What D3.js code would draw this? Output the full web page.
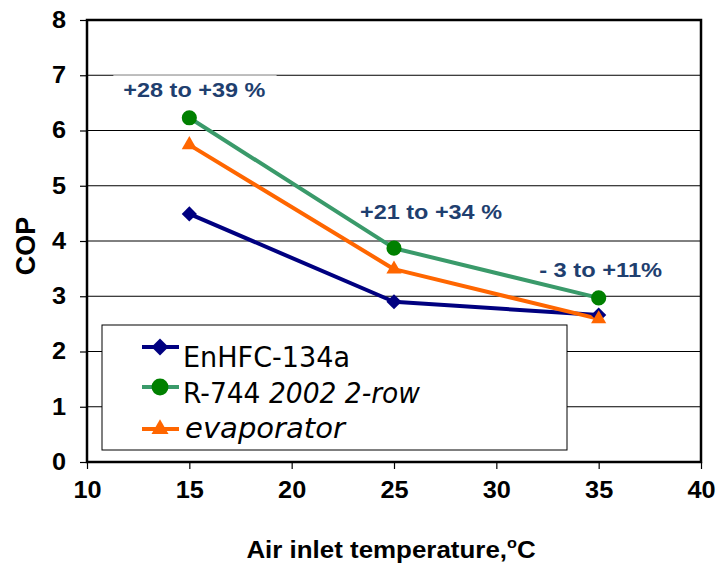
<!DOCTYPE html>
<html><head><meta charset="utf-8">
<script src="https://cdn.jsdelivr.net/npm/d3@7"></script>
<style>body{margin:0;background:#fff}</style>
</head><body>
<script>
const temps = [15, 25, 35];
const enhfc = [4.49, 2.90, 2.66];
const r744 = [6.23, 3.87, 2.97];
const evap = [5.74, 3.49, 2.59];
const xTicks = [10, 15, 20, 25, 30, 35, 40];
const yTicks = [0, 1, 2, 3, 4, 5, 6, 7, 8];
const annotTemps = [15, 25, 35];
const annotValues = [6.6, 4.4, 3.35];
const annotTexts = ["+28 to +39 %", "+21 to +34 %", "- 3 to +11%"];

const W = 717, H = 563;
const m = {l: 87, r: 16, t: 20, b: 101};
const ARIAL = "Liberation Sans, Arial, sans-serif";
const svg = d3.select("body").append("svg").attr("width", W).attr("height", H);
const x = d3.scaleLinear().domain([10, 40]).range([m.l, W - m.r]);
const y = d3.scaleLinear().domain([0, 8]).range([H - m.b, m.t]);

function stretch(sel, factor) {
  sel.each(function() {
    const w = this.getComputedTextLength();
    d3.select(this).attr("textLength", w * factor).attr("lengthAdjust", "spacingAndGlyphs");
  });
}

// gridlines
svg.append("g").selectAll("line").data(yTicks.filter(d => d > 0 && d < 8)).join("line")
  .attr("x1", x(10)).attr("x2", x(40)).attr("y1", d => y(d)).attr("y2", d => y(d))
  .attr("stroke", "#000").attr("stroke-width", 1);

// annotations
const ann = svg.append("g");
const annOffsets = [5, 37, 2];
const annWidths = [142, 142, 123];
annotTexts.forEach((txt, i) => {
  const tx = ann.append("text").attr("x", x(annotTemps[i]) + annOffsets[i]).attr("y", y(annotValues[i]))
    .attr("text-anchor", "middle").attr("font-family", ARIAL)
    .attr("font-weight", "bold").attr("font-size", 20).attr("fill", "#1F3F6F")
    .attr("textLength", annWidths[i]).attr("lengthAdjust", "spacingAndGlyphs").text(txt);
  if (i === 0) {
    const bb = tx.node().getBBox();
    ann.insert("rect", "text").attr("x", bb.x - 10).attr("y", bb.y - 4).attr("width", bb.width + 21).attr("height", bb.height + 8).attr("fill", "#fff");
  }
});

// axes
const xAxis = d3.axisBottom(x).tickValues(xTicks).tickSize(7).tickPadding(13);
const yAxis = d3.axisLeft(y).tickValues(yTicks).tickSize(7).tickPadding(14);
const gx = svg.append("g").attr("transform", `translate(0,${y(0)})`).call(xAxis);
const gy = svg.append("g").attr("transform", `translate(${x(10)},0)`).call(yAxis);
[gx, gy].forEach(g => {
  g.select(".domain").remove();
  g.selectAll("line").attr("stroke", "#000").attr("stroke-width", 1.2);
  g.selectAll("text").attr("font-family", ARIAL).attr("font-weight", "bold").attr("font-size", 23).attr("fill", "#000");
  stretch(g.selectAll("text"), 1.1);
});

// frame
svg.append("rect").attr("x", x(10)).attr("y", y(8)).attr("width", x(40) - x(10)).attr("height", y(0) - y(8))
  .attr("fill", "none").attr("stroke", "#000").attr("stroke-width", 2.5);

// series
const series = [
  {name: "EnHFC-134a", vals: enhfc, line: "#000080", mark: "#000080", shape: d3.symbolSquare, size: 115, rot: 45},
  {name: "R-744", vals: r744, line: "#3A9A6A", mark: "#008000", shape: d3.symbolCircle, size: 180, rot: 0},
  {name: "evaporator", vals: evap, line: "#FF6600", mark: "#FF6600", shape: d3.symbolTriangle, size: 100, rot: 0}
];
const lineGen = d3.line().x((d, i) => x(temps[i])).y(d => y(d));
series.forEach(s => {
  svg.append("path").datum(s.vals).attr("d", lineGen).attr("fill", "none")
    .attr("stroke", s.line).attr("stroke-width", 4).attr("stroke-linejoin", "round");
});
series.forEach(s => {
  svg.append("g").selectAll("path").data(s.vals).join("path")
    .attr("d", d3.symbol().type(s.shape).size(s.size))
    .attr("transform", (d, i) => `translate(${x(temps[i])},${y(d)}) rotate(${s.rot})`)
    .attr("fill", s.mark);
});

// legend
const lg = svg.append("g");
lg.append("rect").attr("x", 102).attr("y", 325).attr("width", 465).attr("height", 125)
  .attr("fill", "#fff").attr("stroke", "#000").attr("stroke-width", 1);
const markY = [347, 387, 429];
const baseY = [367, 403, 438];
const legWidths = [167, 237, 160];
series.forEach((s, i) => {
  lg.append("line").attr("x1", 142).attr("x2", 179).attr("y1", markY[i]).attr("y2", markY[i])
    .attr("stroke", s.line).attr("stroke-width", 4);
  lg.append("path").attr("d", d3.symbol().type(s.shape).size(s.size * 1.25))
    .attr("transform", `translate(160,${markY[i]}) rotate(${s.rot})`).attr("fill", s.mark);
});
const ltext = (i) => lg.append("text").attr("x", 183).attr("y", baseY[i])
  .attr("font-family", "DejaVu Sans, Verdana, sans-serif").attr("font-size", 28).attr("fill", "#000")
  .attr("textLength", legWidths[i]).attr("lengthAdjust", "spacingAndGlyphs");
ltext(0).text("EnHFC-134a");
const t1 = ltext(1);
t1.append("tspan").text("R-744 ");
t1.append("tspan").attr("font-style", "italic").text("2002 2-row");
ltext(2).attr("x", 185).attr("font-style", "italic").text("evaporator");

// axis titles
const xt = svg.append("g").attr("transform", "translate(391,558) scale(1.08,1)");
xt.append("text").attr("x", 0).attr("y", 0).attr("text-anchor", "middle")
  .attr("font-family", ARIAL).attr("font-weight", "bold").attr("font-size", 24)
  .call(t => { t.append("tspan").text("Air inlet temperature,"); t.append("tspan").attr("dy", -10).attr("font-size", 15).text("o"); t.append("tspan").attr("dy", 10).text("C"); });
svg.append("text").attr("transform", "translate(35,246) rotate(-90)").attr("text-anchor", "middle")
  .attr("font-family", ARIAL).attr("font-weight", "bold").attr("font-size", 27).text("COP");
</script>
</body></html>
